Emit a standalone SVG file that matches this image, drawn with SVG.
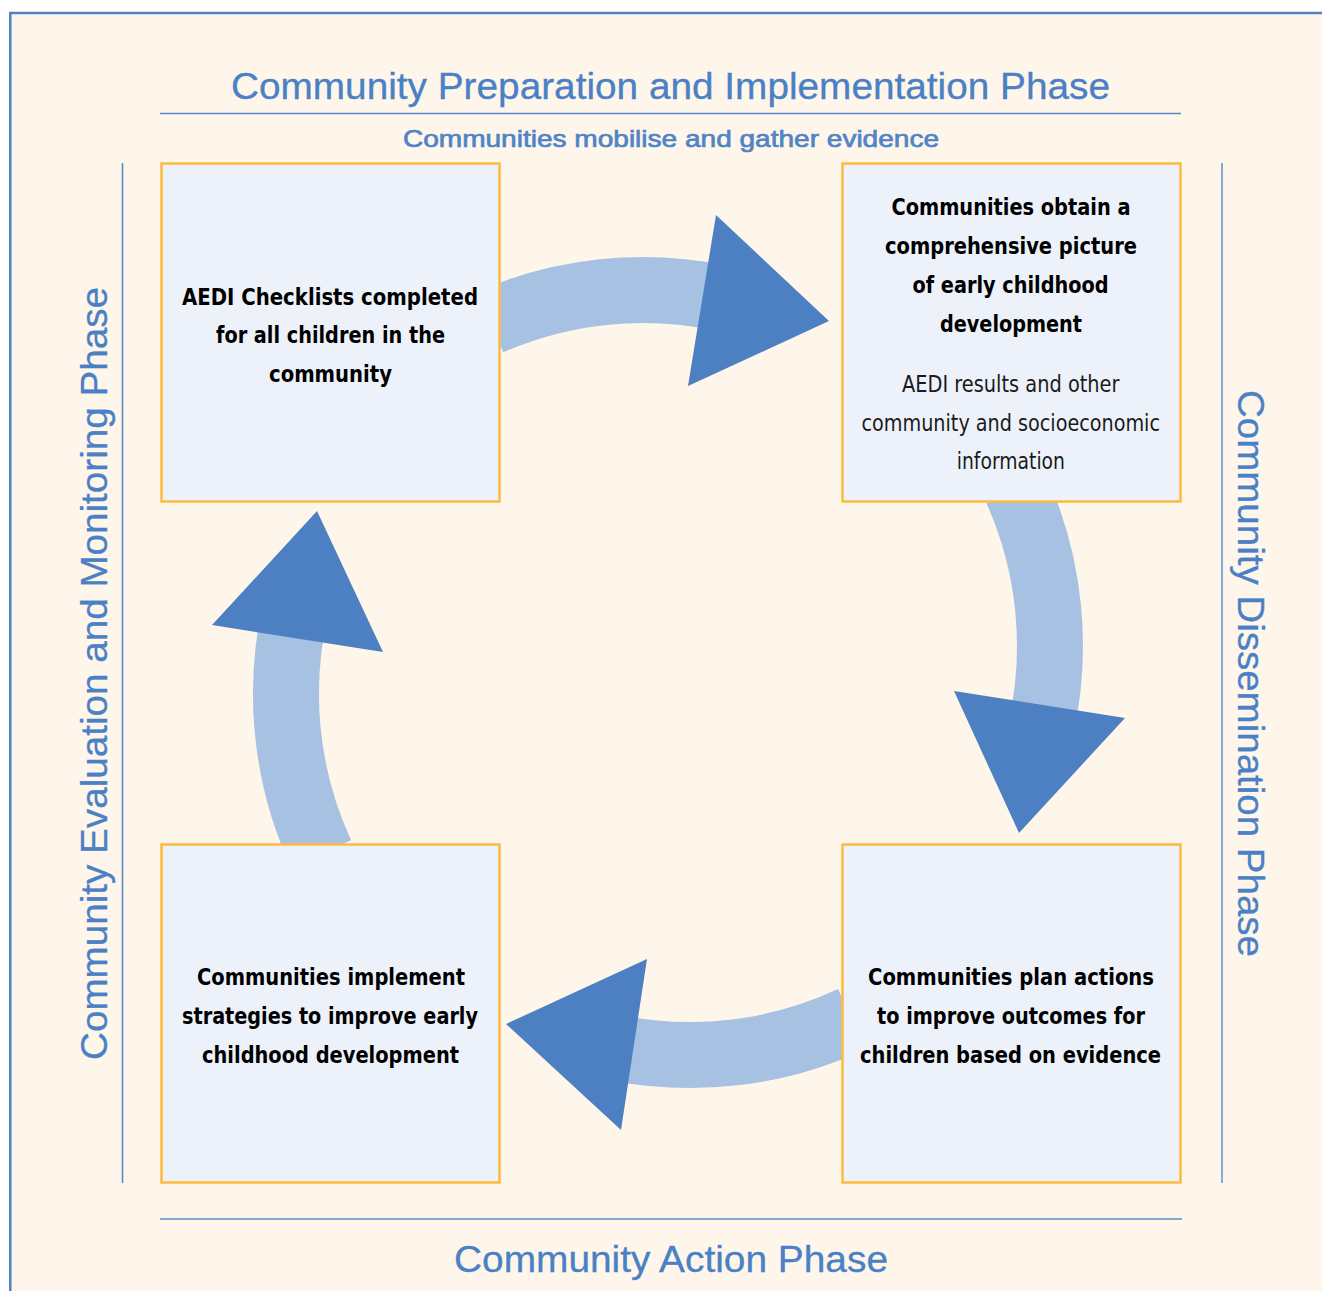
<svg xmlns="http://www.w3.org/2000/svg" width="1322" height="1291" viewBox="0 0 1322 1291">
  <defs>
    <style>
      .frame { fill: #FEF6EA; stroke: #4F82C3; stroke-width: 2.5; }
      .rule { stroke: #5A88C8; stroke-width: 1.6; fill: none; }
      .rule-soft { stroke: #86A7D5; stroke-width: 2; fill: none; }
      .phase { font-family: "Liberation Sans", Arial, Helvetica, sans-serif; font-size: 36px; fill: #4A80C5; stroke: #4A80C5; stroke-width: 0.3; }
      .sub { font-family: "Liberation Sans", Arial, Helvetica, sans-serif; font-size: 24.5px; fill: #4F84C6; stroke: #4F84C6; stroke-width: 0.7; }
      .box { fill: #EDF2FA; stroke: #FDBB3C; stroke-width: 2.5; }
      .head { font-family: "Liberation Sans Narrow", "DejaVu Sans Condensed", "Liberation Sans", sans-serif; font-size: 23.5px; font-weight: bold; fill: #000; }
      .body { font-family: "Liberation Sans Narrow", "DejaVu Sans Condensed", "Liberation Sans", sans-serif; font-size: 23.5px; fill: #1a1a1a; }
      .band { fill: none; stroke: #A6C1E1; stroke-width: 66; stroke-linecap: butt; }
      .head-tri { fill: #4D80C2; }
    </style>
  </defs>

  <!-- page and frame -->
  <rect x="0" y="0" width="1322" height="1291" fill="#FFFFFF"/>
  <rect class="frame" x="10.3" y="13" width="1400" height="1400"/>

  <!-- phase titles and rules -->
  <g id="phase-labels">
    <line class="rule" x1="160" y1="113.5" x2="1181" y2="113.5"/>
    <line class="rule" x1="122.5" y1="163" x2="122.5" y2="1183"/>
    <line class="rule-soft" x1="160" y1="1219" x2="1182" y2="1219"/>
    <line class="rule-soft" x1="1222" y1="163" x2="1222" y2="1183"/>

    <text class="phase" x="231" y="98.5" textLength="879" lengthAdjust="spacingAndGlyphs">Community Preparation and Implementation Phase</text>
    <text class="sub" x="403" y="146.5" textLength="536" lengthAdjust="spacingAndGlyphs">Communities mobilise and gather evidence</text>
    <text class="phase" x="454" y="1272" textLength="434" lengthAdjust="spacingAndGlyphs">Community Action Phase</text>
    <text class="phase" transform="translate(107,1060) rotate(-90)" x="0" y="0" textLength="773" lengthAdjust="spacingAndGlyphs">Community Evaluation and Monitoring Phase</text>
    <text class="phase" transform="translate(1238,390) rotate(90)" x="0" y="0" textLength="567" lengthAdjust="spacingAndGlyphs">Community Dissemination Phase</text>
  </g>

  <!-- curved cycle arrows -->
  <g id="connectors">
    <g id="arrow-top">
      <path class="band" d="M 490 322 A 382 382 0 0 1 720 297.8"/>
      <polygon class="head-tri" points="716,215 829,321 688,386"/>
    </g>
    <g id="arrow-right">
      <path class="band" d="M 1016.7 490 A 382 382 0 0 1 1040.6 730"/>
      <polygon class="head-tri" points="954,691 1125,718 1019,833"/>
    </g>
    <g id="arrow-bottom">
      <path class="band" d="M 852 1019 A 382 382 0 0 1 615 1047.6"/>
      <polygon class="head-tri" points="647,959 621,1130 506,1024"/>
    </g>
    <g id="arrow-left">
      <path class="band" d="M 321.1 854 A 382 382 0 0 1 297.7 600"/>
      <polygon class="head-tri" points="212,625 317,511 383,652"/>
    </g>
  </g>

  <!-- step boxes -->
  <g id="node-checklists">
    <rect class="box" x="161.5" y="163.5" width="338" height="338"/>
    <text class="head" x="182" y="304.5" textLength="296" lengthAdjust="spacingAndGlyphs">AEDI Checklists completed</text>
    <text class="head" x="216" y="343" textLength="229" lengthAdjust="spacingAndGlyphs">for all children in the</text>
    <text class="head" x="269" y="381.5" textLength="123" lengthAdjust="spacingAndGlyphs">community</text>
  </g>

  <g id="node-picture">
    <rect class="box" x="842.5" y="163.5" width="338" height="338"/>
    <text class="head" x="891.5" y="215" textLength="239" lengthAdjust="spacingAndGlyphs">Communities obtain a</text>
    <text class="head" x="885" y="253.5" textLength="252" lengthAdjust="spacingAndGlyphs">comprehensive picture</text>
    <text class="head" x="912.5" y="292.5" textLength="196" lengthAdjust="spacingAndGlyphs">of early childhood</text>
    <text class="head" x="940" y="331.5" textLength="142" lengthAdjust="spacingAndGlyphs">development</text>
    <text class="body" x="902" y="392.3" textLength="217.5" lengthAdjust="spacingAndGlyphs">AEDI results and other</text>
    <text class="body" x="861.5" y="430.7" textLength="298.5" lengthAdjust="spacingAndGlyphs">community and socioeconomic</text>
    <text class="body" x="956.7" y="469" textLength="108.3" lengthAdjust="spacingAndGlyphs">information</text>
  </g>

  <g id="node-implement">
    <rect class="box" x="161.5" y="844.5" width="338" height="338"/>
    <text class="head" x="197" y="984.5" textLength="268" lengthAdjust="spacingAndGlyphs">Communities implement</text>
    <text class="head" x="182" y="1023.5" textLength="296" lengthAdjust="spacingAndGlyphs">strategies to improve early</text>
    <text class="head" x="202" y="1062.5" textLength="257" lengthAdjust="spacingAndGlyphs">childhood development</text>
  </g>

  <g id="node-plan">
    <rect class="box" x="842.5" y="844.5" width="338" height="338"/>
    <text class="head" x="868" y="984.5" textLength="286" lengthAdjust="spacingAndGlyphs">Communities plan actions</text>
    <text class="head" x="877" y="1023.5" textLength="268" lengthAdjust="spacingAndGlyphs">to improve outcomes for</text>
    <text class="head" x="860" y="1062.5" textLength="301" lengthAdjust="spacingAndGlyphs">children based on evidence</text>
  </g>
</svg>
